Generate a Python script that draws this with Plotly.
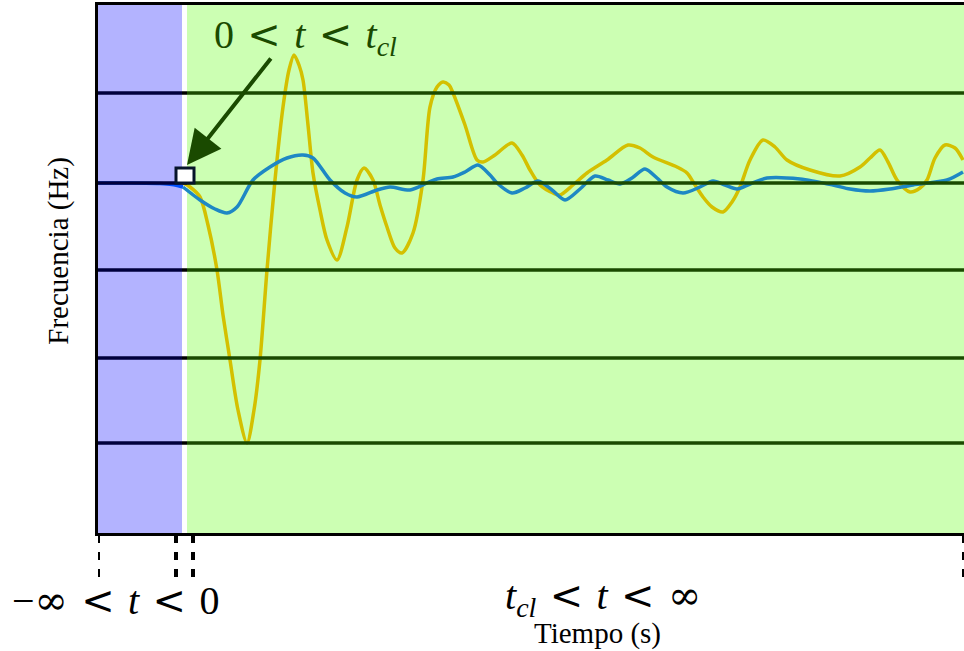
import plotly.graph_objects as go
import numpy as np

# time (arbitrary units, 0 = fault inception) and frequency deviation (arbitrary units)
blue_t = [-84, -52, -22, -10, 1, 18, 33, 45, 55, 71, 88, 105, 121, 131, 148, 163, 175, 195, 208, 228,
          245, 255, 271, 283, 296, 308, 315, 330, 343, 356, 370, 383, 398, 413, 426, 438, 450, 463, 475,
          485, 501, 518, 531, 543, 555, 568, 585, 618, 651, 668, 688, 708, 731, 765, 781]
blue_f = [0, 0, -0.5, -1.5, -4, -17, -26, -30, -24, 3, 16, 25, 28, 25, 3, -10, -14, -7, -4, -7,
          0, 4, 6, 11, 18, 8, 0, -10, -5, 2, -7, -17, -6, 7, 3, -1, 5, 14, 5,
          -4, -10, -4, 2, -2, -6, -1, 5, 4, -2, -6, -8, -6, -2, 3, 11]

yellow_t = [1, 8, 18, 26, 35, 41, 48, 56, 65, 72, 78, 85, 93, 101, 107, 112, 117, 121, 126, 131,
            138, 145, 155, 165, 175, 182, 191, 198, 205, 213, 220, 231, 241, 248, 255, 261, 267, 271,
            283, 295, 301, 313, 330, 340, 348, 358, 371, 378, 391, 405, 425, 446, 458, 471, 495, 505,
            513, 521, 530, 541, 550, 558, 568, 581, 593, 605, 628, 658, 678, 688, 698, 706, 715, 728,
            738, 745, 753, 763, 773, 781]
yellow_f = [0, -4, -14, -42, -87, -132, -177, -227, -260, -227, -177, -87, 3, 76, 113, 128, 118, 103, 58, 10,
            -27, -57, -77, -44, 3, 15, 3, -22, -44, -65, -70, -50, 3, 76, 96, 101, 98, 90,
            58, 23, 21, 28, 40, 28, 13, -2, -10, -12, -2, 10, 23, 38, 35, 26, 16, 10,
            -2, -14, -24, -29, -19, -4, 23, 43, 36, 23, 13, 7, 16, 25, 33, 21, 3, -9,
            -5, 3, 25, 38, 35, 23]

grid_f = [90, 0, -87, -175, -260]
t_start, t_fault, t_cl, t_end = -84, 0, 5, 782
f_min, f_max = -350, 178
tick_t = [-84, -6, 11, 782]
marker_box_t = [-6, 12]
marker_box_f = [0, 15]

BG_PRE = "#b3b3ff"
BG_POST = "#ccffb3"
GRID_POST = "#1a4a00"
GRID_PRE = "#00003c"
YELLOW = "#d4c000"
BLUE = "#1e88c4"
BLUE_PRE = "#0050ff"

fig = go.Figure()

bt = np.array(blue_t); bf = np.array(blue_f)
pre = bt <= 1
fig.add_trace(go.Scatter(x=bt[pre], y=bf[pre], mode="lines",
                         line=dict(color=BLUE_PRE, width=3.5, shape="spline", smoothing=0.8),
                         showlegend=False, hoverinfo="skip"))
fig.add_trace(go.Scatter(x=yellow_t, y=yellow_f, mode="lines",
                         line=dict(color=YELLOW, width=3.5, shape="spline", smoothing=0.8),
                         showlegend=False, hoverinfo="skip"))
post = bt >= 1
fig.add_trace(go.Scatter(x=bt[post], y=bf[post], mode="lines",
                         line=dict(color=BLUE, width=3.5, shape="spline", smoothing=0.8),
                         showlegend=False, hoverinfo="skip"))

shapes = []
shapes.append(dict(type="rect", xref="x", yref="paper", x0=t_start, x1=t_fault, y0=0, y1=1,
                   fillcolor=BG_PRE, line=dict(width=0), layer="below"))
shapes.append(dict(type="rect", xref="x", yref="paper", x0=t_cl, x1=t_end, y0=0, y1=1,
                   fillcolor=BG_POST, line=dict(width=0), layer="below"))
for g in grid_f:
    shapes.append(dict(type="line", xref="x", yref="y", x0=t_start, x1=t_fault, y0=g, y1=g,
                       line=dict(color=GRID_PRE, width=3.5), layer="above"))
    shapes.append(dict(type="line", xref="x", yref="y", x0=t_fault, x1=t_cl, y0=g, y1=g,
                       line=dict(color="black", width=3.5), layer="above"))
    shapes.append(dict(type="line", xref="x", yref="y", x0=t_cl, x1=t_end, y0=g, y1=g,
                       line=dict(color=GRID_POST, width=3.5), layer="above"))
shapes.append(dict(type="rect", xref="x", yref="y", x0=marker_box_t[0], x1=marker_box_t[1],
                   y0=marker_box_f[0], y1=marker_box_f[1], fillcolor="white",
                   line=dict(color="#06142a", width=3), layer="above"))
for tt in tick_t:
    shapes.append(dict(type="line", xref="x", yref="paper", x0=tt, x1=tt, y0=-0.004, y1=-0.09,
                       line=dict(color="black", width=4, dash="8px,9px")))

serif = "Liberation Serif"
sp = "&#8196;"
LT = f"{sp}<span style='font-family:DejaVu Serif'>&lt;</span>{sp}"
INF = "<span style='font-family:DejaVu Serif'>∞</span>"
annotations = [
    dict(x=5, y=18, xref="x", yref="y", ax=85, ay=-108, axref="pixel", ayref="pixel",
         showarrow=True, arrowhead=2, arrowsize=1.7, arrowwidth=4, arrowcolor=GRID_POST, text=""),
    dict(x=123, y=147, xref="x", yref="y", showarrow=False, xanchor="center", yanchor="middle",
         text=f"0{LT}<i>t</i>{LT}<i>t</i><sub><i>cl</i></sub>",
         font=dict(family=serif, size=40, color=GRID_POST)),
    dict(x=-67, y=-0.127, xref="x", yref="paper", showarrow=False, xanchor="center", yanchor="middle",
         text=f"−{INF}{LT}<i>t</i>{LT}0", font=dict(family=serif, size=40, color="black")),
    dict(x=421, y=-0.123, xref="x", yref="paper", showarrow=False, xanchor="center", yanchor="middle",
         text=f"<i>t</i><sub><i>cl</i></sub>{LT}<i>t</i>{LT}{INF}",
         font=dict(family=serif, size=40, color="black")),
    dict(x=415, y=-0.191, xref="x", yref="paper", showarrow=False, xanchor="center", yanchor="middle",
         text="Tiempo (s)", font=dict(family=serif, size=29, color="black")),
    dict(x=-0.046, y=0.535, xref="paper", yref="paper", showarrow=False, textangle=-90,
         xanchor="center", yanchor="middle",
         text="Frecuencia (Hz)", font=dict(family=serif, size=29, color="black")),
]

fig.update_layout(
    width=964, height=651,
    margin=dict(l=98, r=0, t=5, b=118),
    paper_bgcolor="white", plot_bgcolor="white",
    shapes=shapes, annotations=annotations,
    xaxis=dict(range=[t_start, t_end], showgrid=False, zeroline=False, showticklabels=False,
               ticks="", showline=True, mirror=True, linecolor="black", linewidth=3),
    yaxis=dict(range=[f_min, f_max], showgrid=False, zeroline=False, showticklabels=False,
               ticks="", showline=True, mirror=False, linecolor="black", linewidth=3),
)

fig.write_html("out.html", config={"displayModeBar": False},
               post_script="document.body.style.margin='0';")
